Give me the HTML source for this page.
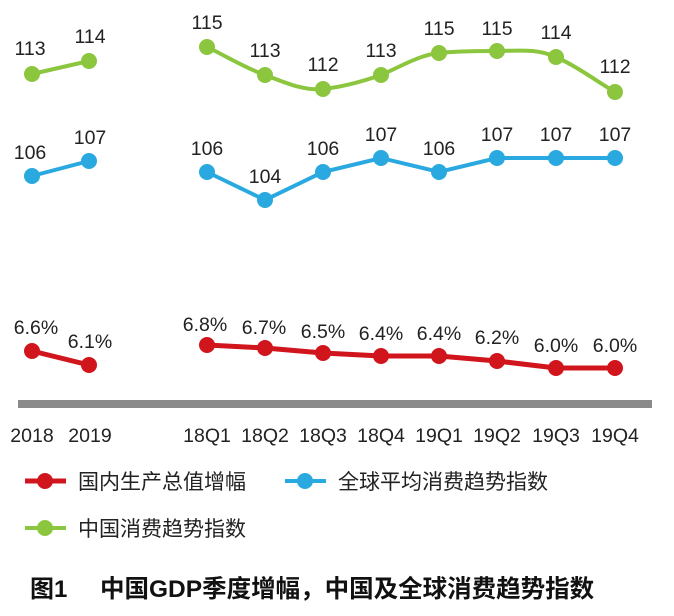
<!DOCTYPE html>
<html><head><meta charset="utf-8"><style>
html,body{margin:0;padding:0;background:#fff;}
svg{display:block;font-family:"Liberation Sans","Noto Sans CJK SC",sans-serif;}
</style></head><body>
<svg width="674" height="616" viewBox="0 0 674 616">
<rect x="18" y="400" width="634" height="8" fill="#8a8a8a"/>
<g font-size="19.5" fill="#222" text-anchor="middle">
<text x="32" y="442">2018</text><text x="90" y="442">2019</text>
<text x="207" y="442">18Q1</text><text x="265" y="442">18Q2</text><text x="323" y="442">18Q3</text><text x="381" y="442">18Q4</text>
<text x="439" y="442">19Q1</text><text x="497" y="442">19Q2</text><text x="556" y="442">19Q3</text><text x="615" y="442">19Q4</text>
</g>
<g stroke="#8cc63f" stroke-width="4" fill="none">
<line x1="32" y1="74" x2="89" y2="61"/>
<path d="M207,47 C226,56 245,68 265,75 C284,82 303,91 323,89 C342,87 361,82 381,75 C400,67 419,55 439,53 C458,51 478,51 497,51 C517,51 536,48 556,57 C576,66 595,80 615,92"/>
</g>
<g fill="#8cc63f">
<circle cx="32" cy="74" r="8"/><circle cx="89" cy="61" r="8"/>
<circle cx="207" cy="47" r="8"/><circle cx="265" cy="75" r="8"/><circle cx="323" cy="89" r="8"/><circle cx="381" cy="75" r="8"/>
<circle cx="439" cy="53" r="8"/><circle cx="497" cy="51" r="8"/><circle cx="556" cy="57" r="8"/><circle cx="615" cy="92" r="8"/>
</g>
<g font-size="19.5" fill="#222" text-anchor="middle">
<text x="30" y="55">113</text><text x="90" y="43">114</text>
<text x="207" y="29">115</text><text x="265" y="57">113</text><text x="323" y="71">112</text><text x="381" y="57">113</text>
<text x="439" y="35">115</text><text x="497" y="35">115</text><text x="556" y="39">114</text><text x="615" y="73">112</text>
</g>
<g stroke="#29a9e0" stroke-width="4" fill="none">
<line x1="32" y1="176" x2="89" y2="161"/>
<polyline points="207,172 265,200 323,172 381,158 439,172 497,158 556,158 615,158"/>
</g>
<g fill="#29a9e0">
<circle cx="32" cy="176" r="8"/><circle cx="89" cy="161" r="8"/>
<circle cx="207" cy="172" r="8"/><circle cx="265" cy="200" r="8"/><circle cx="323" cy="172" r="8"/><circle cx="381" cy="158" r="8"/>
<circle cx="439" cy="172" r="8"/><circle cx="497" cy="158" r="8"/><circle cx="556" cy="158" r="8"/><circle cx="615" cy="158" r="8"/>
</g>
<g font-size="19.5" fill="#222" text-anchor="middle">
<text x="30" y="159">106</text><text x="90" y="144">107</text>
<text x="207" y="155">106</text><text x="265" y="183">104</text><text x="323" y="155">106</text><text x="381" y="141">107</text>
<text x="439" y="155">106</text><text x="497" y="141">107</text><text x="556" y="141">107</text><text x="615" y="141">107</text>
</g>
<g stroke="#d0151c" stroke-width="5" fill="none">
<line x1="32" y1="351" x2="89" y2="365"/>
<polyline points="207,345 265,348 323,353 381,356 439,356 497,361 556,368 615,368"/>
</g>
<g fill="#d0151c">
<circle cx="32" cy="351" r="8"/><circle cx="89" cy="365" r="8"/>
<circle cx="207" cy="345" r="8"/><circle cx="265" cy="348" r="8"/><circle cx="323" cy="353" r="8"/><circle cx="381" cy="356" r="8"/>
<circle cx="439" cy="356" r="8"/><circle cx="497" cy="361" r="8"/><circle cx="556" cy="368" r="8"/><circle cx="615" cy="368" r="8"/>
</g>
<g font-size="19.5" fill="#222" text-anchor="middle">
<text x="36" y="334">6.6%</text><text x="90" y="348">6.1%</text>
<text x="205" y="331">6.8%</text><text x="264" y="334">6.7%</text><text x="323" y="338">6.5%</text><text x="381" y="340">6.4%</text>
<text x="439" y="340">6.4%</text><text x="497" y="344">6.2%</text><text x="556" y="352">6.0%</text><text x="615" y="352">6.0%</text>
</g>
<line x1="25" y1="481" x2="66" y2="481" stroke="#d0151c" stroke-width="5"/><circle cx="45" cy="481" r="8" fill="#d0151c"/>
<text x="78" y="489" font-size="21" fill="#222">国内生产总值增幅</text>
<line x1="285" y1="481" x2="326" y2="481" stroke="#29a9e0" stroke-width="4"/><circle cx="305" cy="481" r="8" fill="#29a9e0"/>
<text x="338" y="489" font-size="21" fill="#222">全球平均消费趋势指数</text>
<line x1="25" y1="528" x2="66" y2="528" stroke="#8cc63f" stroke-width="4"/><circle cx="45" cy="528" r="8" fill="#8cc63f"/>
<text x="78" y="536" font-size="21" fill="#222">中国消费趋势指数</text>
<text x="30" y="597" font-size="24" font-weight="bold" fill="#111">图1</text>
<text x="100" y="597" font-size="24.5" font-weight="bold" fill="#111">中国GDP季度增幅，中国及全球消费趋势指数</text>
</svg>
</body></html>
